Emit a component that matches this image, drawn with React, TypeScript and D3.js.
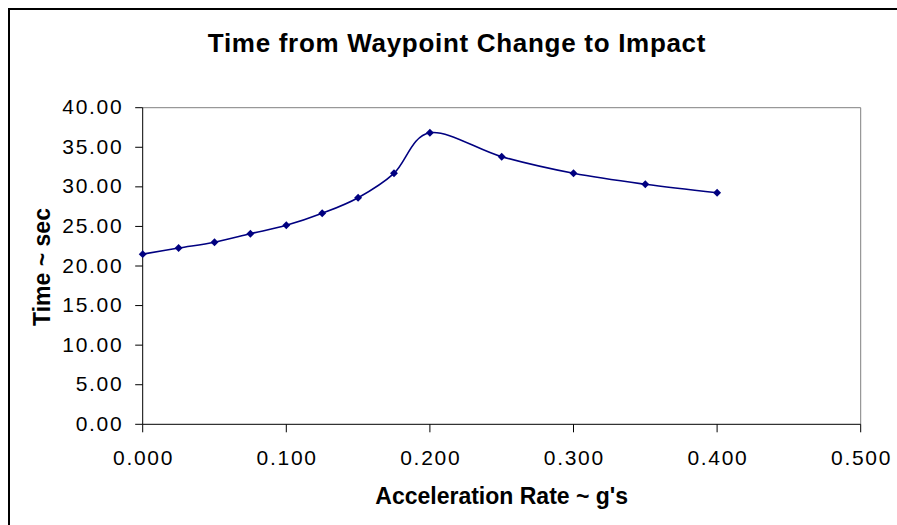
import React from "react";
import * as d3 from "d3";

const accel = [0, 0.025, 0.05, 0.075, 0.1, 0.125, 0.15, 0.175, 0.2, 0.25, 0.3, 0.35, 0.4];
const timeSec = [21.5, 22.27, 23.0, 24.08, 25.14, 26.66, 28.63, 31.71, 36.84, 33.81, 31.71, 30.32, 29.26];
const xTicks = [0, 0.1, 0.2, 0.3, 0.4, 0.5];
const yTicks = [0, 5, 10, 15, 20, 25, 30, 35, 40];

const W = 897;
const H = 525;
const FONT = "'Liberation Sans', Arial, sans-serif";

export default function App() {
  const left = 142.7, right = 860.7, top = 107.7, bottom = 424.3;
  const x = d3.scaleLinear().domain([0, 0.5]).range([left, right]);
  const y = d3.scaleLinear().domain([0, 40]).range([bottom, top]);
  const pts = accel.map((a, i) => [a, timeSec[i]] as [number, number]);
  const line = d3
    .line<[number, number]>()
    .x((d) => x(d[0]))
    .y((d) => y(d[1]))
    .curve(d3.curveCardinal.tension(0));
  const diamond = d3.symbol().type(d3.symbolDiamond2).size(40)() as string;
  const ls = 1.7;

  return (
    <svg width={W} height={H} style={{ position: "absolute", left: 0, top: 0 }}>
      <rect x={0} y={0} width={W} height={H} fill="#fff" />
      <rect x={9} y={9} width={W + 20} height={H + 20} fill="none" stroke="#000" strokeWidth={2} />
      <text
        x={457}
        y={52}
        textAnchor="middle"
        fontFamily={FONT}
        fontWeight="bold"
        fontSize={26}
        letterSpacing={0.7}
      >
        Time from Waypoint Change to Impact
      </text>
      {/* plot frame */}
      <line x1={left} y1={top} x2={right} y2={top} stroke="#808080" strokeWidth={1} />
      <line x1={right} y1={top} x2={right} y2={bottom} stroke="#808080" strokeWidth={1} />
      <line x1={left} y1={top} x2={left} y2={bottom} stroke="#000" strokeWidth={1} />
      <line x1={left} y1={bottom} x2={right} y2={bottom} stroke="#000" strokeWidth={1} />
      {yTicks.map((t) => (
        <g key={"y" + t}>
          <line x1={left - 7.5} x2={left} y1={y(t)} y2={y(t)} stroke="#000" />
          <text
            x={121.7 + ls}
            y={y(t) + 6.5}
            textAnchor="end"
            fontFamily={FONT}
            fontSize={21}
            letterSpacing={ls}
          >
            {t.toFixed(2)}
          </text>
        </g>
      ))}
      {xTicks.map((t) => (
        <g key={"x" + t}>
          <line x1={x(t)} x2={x(t)} y1={bottom} y2={bottom + 8} stroke="#000" />
          <text
            x={x(t) + ls / 2}
            y={465}
            textAnchor="middle"
            fontFamily={FONT}
            fontSize={21}
            letterSpacing={ls}
          >
            {t.toFixed(3)}
          </text>
        </g>
      ))}
      <text x={501.7} y={504} textAnchor="middle" fontFamily={FONT} fontWeight="bold" fontSize={23}>
        Acceleration Rate ~ g's
      </text>
      <text
        transform={`translate(50,267) rotate(-90)`}
        textAnchor="middle"
        fontFamily={FONT}
        fontWeight="bold"
        fontSize={23}
      >
        Time ~ sec
      </text>
      <path d={line(pts) as string} fill="none" stroke="#000080" strokeWidth={1.6} />
      {pts.map((p, i) => (
        <path key={i} d={diamond} transform={`translate(${x(p[0])},${y(p[1])})`} fill="#000080" />
      ))}
    </svg>
  );
}
